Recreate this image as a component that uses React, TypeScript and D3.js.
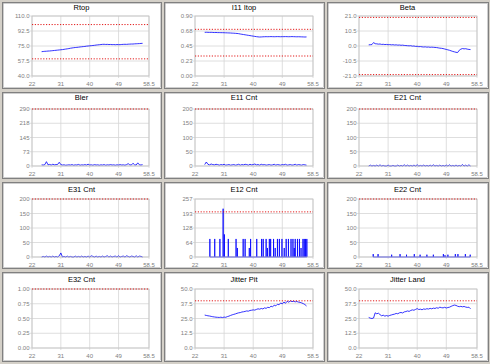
import React from "react";
import * as d3 from "d3";

const X_DOMAIN: [number, number] = [22, 58.5];
const X_TICKS = [22, 31, 40, 49, 58.5];
const X_TICK_LABELS = ["22", "31", "40", "49", "58.5"];

// sample positions shared by the continuous series
const DIST = [
  25, 25.5, 26, 26.5, 27, 27.5, 28, 28.5,
  29, 29.5, 30, 30.5, 31, 31.5, 32, 32.5,
  33, 33.5, 34, 34.5, 35, 35.5, 36, 36.5,
  37, 37.5, 38, 38.5, 39, 39.5, 40, 40.5,
  41, 41.5, 42, 42.5, 43, 43.5, 44, 44.5,
  45, 45.5, 46, 46.5, 47, 47.5, 48, 48.5,
  49, 49.5, 50, 50.5, 51, 51.5, 52, 52.5,
  53, 53.5, 54, 54.5, 55, 55.5, 56, 56.5,
];

const RTOP = [
  68.4, 68.6, 68.8, 68.9, 69.1, 69.2, 69.4, 69.6,
  69.8, 70.0, 70.2, 70.4, 70.6, 70.8, 71.1, 71.4,
  71.7, 72.0, 72.4, 72.7, 73.0, 73.2, 73.4, 73.6,
  73.9, 74.1, 74.3, 74.5, 74.8, 75.0, 75.2, 75.4,
  75.6, 75.8, 76.1, 76.3, 76.5, 76.7, 76.9, 77.0,
  76.8, 76.9, 76.7, 76.8, 76.6, 76.7, 76.5, 76.7,
  76.6, 76.6, 76.8, 76.9, 77.0, 76.9, 77.1, 77.2,
  77.3, 77.3, 77.5, 77.6, 77.7, 77.8, 78.0, 78.1,
];

const I11_ITOP = [
  0.655, 0.656, 0.655, 0.654, 0.655, 0.653, 0.652, 0.653,
  0.651, 0.651, 0.65, 0.65, 0.649, 0.648, 0.647, 0.646,
  0.645, 0.643, 0.642, 0.64, 0.638, 0.635, 0.63, 0.626,
  0.622, 0.618, 0.614, 0.61, 0.606, 0.602, 0.598, 0.594,
  0.59, 0.587, 0.585, 0.586, 0.588, 0.589, 0.59, 0.589,
  0.59, 0.591, 0.59, 0.589, 0.59, 0.591, 0.59, 0.589,
  0.59, 0.59, 0.591, 0.59, 0.589, 0.59, 0.591, 0.59,
  0.589, 0.588, 0.589, 0.588, 0.587, 0.586, 0.585, 0.586,
];

const BETA = [
  0.8, 0.9, 1.0, 2.4, 1.6, 1.5, 1.3, 1.4,
  1.1, 1.2, 1.0, 1.1, 0.9, 1.0, 0.8, 0.9,
  0.7, 0.8, 0.6, 0.7, 0.5, 0.6, 0.4, 0.3,
  0.2, 0.1, 0.2, -0.1, 0.0, -0.3, -0.2, -0.5,
  -0.4, -0.6, -0.7, -0.6, -0.8, -0.7, -0.9, -0.8,
  -0.9, -1.0, -1.1, -1.3, -1.5, -1.6, -1.8, -2.1,
  -2.4, -2.7, -3.0, -3.4, -3.8, -4.1, -4.4, -4.6,
  -3.0, -2.2, -1.8, -2.0, -1.9, -2.2, -2.4, -2.5,
];

const BLER = [
  6, 5, 7, 22, 6, 8, 5, 9,
  6, 7, 8, 19, 7, 5, 6, 4,
  5, 6, 5, 7, 4, 6, 5, 8,
  4, 6, 5, 7, 5, 9, 5, 6,
  4, 7, 5, 6, 4, 6, 5, 7,
  4, 6, 5, 7, 5, 6, 4, 6,
  5, 7, 5, 6, 4, 7, 12, 6,
  5, 14, 6, 5, 16, 6, 5, 7,
];

const E11_CNT = [
  5, 14, 6, 4, 7, 5, 4, 6,
  5, 3, 5, 4, 6, 3, 4, 5,
  3, 4, 5, 3, 4, 6, 3, 5,
  4, 6, 5, 3, 6, 4, 5, 7,
  4, 5, 3, 6, 4, 5, 3, 4,
  5, 3, 4, 6, 3, 5, 4, 3,
  5, 4, 6, 3, 4, 5, 3, 4,
  6, 3, 5, 4, 3, 5, 4, 3,
];

const E21_CNT = [
  0, 3, 0, 2, 0, 3, 0, 4,
  0, 2, 0, 0, 3, 0, 0, 2,
  0, 0, 3, 0, 2, 0, 4, 0,
  3, 0, 2, 0, 3, 0, 4, 0,
  2, 0, 3, 0, 2, 0, 3, 0,
  4, 0, 2, 0, 3, 0, 2, 0,
  3, 0, 4, 0, 2, 0, 3, 0,
  2, 0, 5, 0, 3, 0, 4, 0,
];

const E31_CNT = [
  0, 2, 0, 3, 0, 2, 0, 3,
  0, 2, 0, 4, 14, 0, 2, 0,
  3, 0, 2, 0, 0, 3, 0, 2,
  0, 3, 0, 2, 0, 3, 0, 4,
  2, 0, 3, 0, 2, 0, 3, 0,
  2, 4, 0, 3, 0, 2, 3, 0,
  4, 0, 2, 3, 0, 4, 2, 0,
  3, 2, 0, 4, 0, 3, 2, 0,
];

// E12 / E22 are isolated error bursts: position and count
const E12_AT = [
  26.6, 28.1, 29.7, 30.7, 31.1, 32.3, 34.7, 35.1, 36.9, 37.5,
  38.8, 39.2, 41.1, 42.6, 43.1, 44.0, 44.4, 45.0, 45.4, 46.3,
  46.8, 47.5, 48.1, 48.9, 49.6, 50.2, 50.9, 51.7, 52.3, 52.7,
  53.0, 53.7, 54.3, 54.8, 55.4, 55.8, 56.2, 56.6,
];
const E12_VAL = [
  80, 80, 80, 214, 100, 80, 80, 40, 80, 80,
  40, 80, 80, 80, 80, 80, 40, 80, 80, 80,
  40, 80, 80, 80, 40, 80, 80, 80, 80, 40,
  80, 80, 80, 40, 80, 80, 80, 80,
];

const E22_AT = [
  26.4, 27.9, 32.1, 34.7, 36.7, 39.1, 40.9, 43.0,
  45.0, 48.1, 48.6, 49.5, 51.8, 52.6, 54.9, 56.4,
];
const E22_VAL = [10, 10, 8, 10, 8, 10, 8, 8, 8, 10, 6, 8, 10, 10, 10, 8];

const E32_CNT: number[] = [];

const JITTER_PIT = [
  27.9, 27.6, 27.3, 27.1, 26.8, 26.5, 26.3, 26.1,
  26.0, 25.9, 26.1, 25.8, 26.2, 26.0, 26.6, 27.0,
  27.6, 28.1, 28.5, 28.9, 29.4, 29.8, 30.0, 30.5,
  30.7, 31.0, 31.4, 31.2, 31.8, 32.0, 32.3, 32.1,
  32.7, 33.2, 32.9, 33.5, 33.1, 34.0, 33.6, 34.5,
  34.2, 35.4, 35.0, 36.2, 35.7, 37.1, 36.6, 38.2,
  37.4, 38.9, 37.9, 39.6, 38.8, 39.9, 39.3, 39.6,
  39.1, 39.4, 38.9, 38.7, 38.2, 37.6, 36.8, 35.6,
];

const JITTER_LAND = [
  25.9, 25.3, 25.0, 25.4, 29.8, 29.0, 29.5, 28.3,
  27.3, 27.8, 27.0, 27.5, 27.0, 27.6, 28.0, 28.4,
  28.7, 29.3, 29.0, 29.8, 30.1, 29.7, 30.6, 30.9,
  31.4, 31.0, 31.8, 32.3, 32.0, 32.7, 33.4, 32.6,
  32.9, 32.4, 33.1, 32.8, 33.3, 33.0, 33.6, 33.2,
  33.8, 33.5, 34.1, 33.7, 34.6, 34.2, 34.0, 34.5,
  33.9, 34.3, 34.6, 35.3, 35.9, 36.4, 36.1, 35.4,
  35.0, 35.3, 34.9, 35.2, 34.7, 34.4, 34.6, 33.2,
];

const TITLES = [
  "Rtop", "I11 Itop", "Beta",
  "Bler", "E11 Cnt", "E21 Cnt",
  "E31 Cnt", "E12 Cnt", "E22 Cnt",
  "E32 Cnt", "Jitter Pit", "Jitter Land",
];

const Y_TICKS = [
  [40, 57.5, 75, 92.5, 110],
  [0, 0.225, 0.45, 0.675, 0.9],
  [-21, -10.5, 0, 10.5, 21],
  [0, 72.5, 145, 217.5, 290],
  [0, 50, 100, 150, 200],
  [0, 50, 100, 150, 200],
  [0, 50, 100, 150, 200],
  [0, 64.25, 128.5, 192.75, 257],
  [0, 50, 100, 150, 200],
  [0, 0.25, 0.5, 0.75, 1],
  [0, 12.5, 25, 37.5, 50],
  [0, 12.5, 25, 37.5, 50],
];

const Y_TICK_LABELS = [
  ["40.0", "57.5", "75.0", "92.5", "110.0"],
  ["0.00", "0.23", "0.45", "0.68", "0.90"],
  ["-21.0", "-10.5", "0.0", "10.5", "21.0"],
  ["0", "73", "145", "218", "290"],
  ["0", "50", "100", "150", "200"],
  ["0", "50", "100", "150", "200"],
  ["0", "50", "100", "150", "200"],
  ["0", "64", "128", "193", "257"],
  ["0", "50", "100", "150", "200"],
  ["0.00", "0.25", "0.50", "0.75", "1.00"],
  ["0.0", "12.5", "25.0", "37.5", "50.0"],
  ["0.0", "12.5", "25.0", "37.5", "50.0"],
];

const LIMITS = [
  [60, 100], [0.3, 0.7], [-20, 20],
  [290], [200], [200],
  [200], [200], [200],
  [1], [40], [40],
];

type Series = { xs: number[]; ys: number[] };

const spikes = (at: number[], val: number[]): Series => {
  const xs: number[] = [];
  const ys: number[] = [];
  at.forEach((a, i) => {
    xs.push(a, a, a);
    ys.push(0, val[i], 0);
  });
  return { xs, ys };
};

const SERIES: Series[] = [
  { xs: DIST, ys: RTOP },
  { xs: DIST, ys: I11_ITOP },
  { xs: DIST, ys: BETA },
  { xs: DIST, ys: BLER },
  { xs: DIST, ys: E11_CNT },
  { xs: DIST, ys: E21_CNT },
  { xs: DIST, ys: E31_CNT },
  spikes(E12_AT, E12_VAL),
  spikes(E22_AT, E22_VAL),
  { xs: DIST, ys: E32_CNT },
  { xs: DIST, ys: JITTER_PIT },
  { xs: DIST, ys: JITTER_LAND },
];

// layout of the 3x4 grid
const PANEL_X = [2, 164, 327];
const PANEL_W = [159, 160, 161];
const PANEL_Y = [2, 92, 182, 272];
const PANEL_H = [86, 86, 86, 89];
const PLOT_L = [32, 195, 359];
const PLOT_R = [149, 313, 477];
const PLOT_T = [16, 109, 199, 289];
const PLOT_B = [76, 166, 257, 348];
const TITLE_Y = [7, 97, 189, 279];

const FONT = "'Liberation Sans', Arial, sans-serif";

const Panel = ({ idx }: { idx: number }) => {
  const col = idx % 3;
  const row = Math.floor(idx / 3);
  const yt = Y_TICKS[idx];
  const x = d3.scaleLinear().domain(X_DOMAIN).range([PLOT_L[col], PLOT_R[col]]);
  const y = d3
    .scaleLinear()
    .domain([yt[0], yt[yt.length - 1]])
    .range([PLOT_B[row], PLOT_T[row]]);
  const s = SERIES[idx];
  const pts: [number, number][] = s.ys.map((v, i) => [s.xs[i], v]);
  const line = d3
    .line<[number, number]>()
    .x((d) => x(d[0]))
    .y((d) => y(d[1]));
  const [x0, x1] = x.range();
  const [yb, ytop] = y.range();

  return (
    <g>
      <rect
        x={PANEL_X[col] + 0.5}
        y={PANEL_Y[row] + 0.5}
        width={PANEL_W[col]}
        height={PANEL_H[row]}
        fill="#fff"
        stroke="#808080"
      />
      <rect
        x={PANEL_X[col] + 1.5}
        y={PANEL_Y[row] + 1.5}
        width={PANEL_W[col] - 2}
        height={PANEL_H[row] - 2}
        fill="none"
        stroke="#a0a0a0"
        strokeWidth={0.5}
      />
      <text
        x={(PANEL_X[col] * 2 + PANEL_W[col]) / 2}
        y={TITLE_Y[row]}
        dy="0.35em"
        textAnchor="middle"
        fontFamily={FONT}
        fontSize={7.5}
        fill="#000"
      >
        {TITLES[idx]}
      </text>
      {/* grid */}
      {X_TICKS.map((t) => (
        <line key={"gx" + t} x1={x(t)} x2={x(t)} y1={ytop} y2={yb + 2} stroke="#d6d6d6" strokeWidth={0.8} />
      ))}
      {yt.map((t) => (
        <line key={"gy" + t} x1={x0 - 2} x2={x1} y1={y(t)} y2={y(t)} stroke="#d6d6d6" strokeWidth={0.8} />
      ))}
      {pts.length > 0 && (
        <path d={line(pts) ?? ""} fill="none" stroke="#0000ff" strokeWidth={0.8} />
      )}
      <rect x={x0} y={ytop} width={x1 - x0} height={yb - ytop} fill="none" stroke="#c4c4c4" strokeWidth={0.8} />
      {LIMITS[idx].map((l) => (
        <line
          key={"lim" + l}
          x1={x0}
          x2={x1}
          y1={y(l)}
          y2={y(l)}
          stroke="#e00000"
          strokeWidth={0.9}
          strokeDasharray="1.2,1.6"
        />
      ))}
      {yt.map((t, i) => (
        <text
          key={"yl" + t}
          x={x0 - 2.5}
          y={y(t)}
          dy="0.35em"
          textAnchor="end"
          fontFamily={FONT}
          fontSize={6}
          fill="#808080"
        >
          {Y_TICK_LABELS[idx][i]}
        </text>
      ))}
      {X_TICKS.map((t, i) => (
        <text
          key={"xl" + t}
          x={x(t)}
          y={yb + 8}
          dy="0.35em"
          textAnchor="middle"
          fontFamily={FONT}
          fontSize={6}
          fill="#808080"
        >
          {X_TICK_LABELS[i]}
        </text>
      ))}
    </g>
  );
};

export default function App() {
  return (
    <svg
      width={490}
      height={364}
      style={{ position: "absolute", left: 0, top: 0, background: "#d4d0c8" }}
    >
      <rect width={490} height={364} fill="#d4d0c8" />
      {TITLES.map((_, i) => (
        <Panel key={i} idx={i} />
      ))}
    </svg>
  );
}
